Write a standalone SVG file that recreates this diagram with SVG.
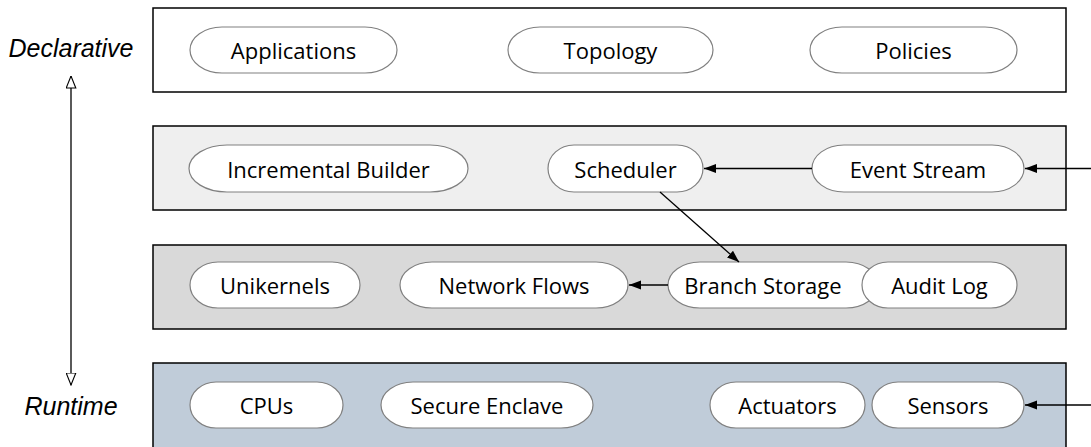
<svg xmlns="http://www.w3.org/2000/svg" width="1091" height="447" viewBox="0 0 1091 447">
  <style>
    .layer { stroke: #000; stroke-width: 1.5; }
    .pill { fill: #fff; stroke: #808080; stroke-width: 1.2; }
    .lbl { font-family: "Open Sans", Lato, sans-serif; font-size: 22px; fill: #000; text-anchor: middle; dominant-baseline: central; }
    .axis { font-family: "Liberation Sans", Arial, sans-serif; font-style: italic; font-size: 25px; fill: #000; text-anchor: middle; dominant-baseline: central; }
    .edge { stroke: #000; stroke-width: 1.3; fill: none; marker-end: url(#solid); }
  </style>
  <defs>
    <marker id="solid" viewBox="0 0 12 10" refX="12" refY="5" markerWidth="12" markerHeight="10" markerUnits="userSpaceOnUse" orient="auto">
      <path d="M0,0.5 L12,5 L0,9.5 Z" fill="#000"/>
    </marker>
    <marker id="hollow" viewBox="0 0 13 11" refX="12.5" refY="5.5" markerWidth="13" markerHeight="11" markerUnits="userSpaceOnUse" orient="auto">
      <path d="M0.5,0.7 L12.5,5.5 L0.5,10.3 Z" fill="#fff" stroke="#000" stroke-width="1.1"/>
    </marker>
  </defs>

  <!-- abstraction axis -->
  <g id="axis">
    <text class="axis" x="71" y="48">Declarative</text>
    <text class="axis" x="71" y="406">Runtime</text>
    <line x1="71" y1="230" x2="71" y2="76" stroke="#000" stroke-width="1.3" marker-end="url(#hollow)"/>
    <line x1="71" y1="230" x2="71" y2="385" stroke="#000" stroke-width="1.3" marker-end="url(#hollow)"/>
  </g>

  <!-- layers -->
  <g id="layer-declarative"><rect class="layer" x="153" y="8" width="913" height="84" fill="#fff"/></g>
  <g id="layer-control"><rect class="layer" x="153" y="126" width="913" height="84" fill="#efefef"/></g>
  <g id="layer-data"><rect class="layer" x="153" y="245" width="913" height="84" fill="#d9d9d9"/></g>
  <g id="layer-runtime"><rect class="layer" x="153" y="363" width="913" height="90" fill="#c0ccd9"/></g>

  <!-- declarative layer nodes -->
  <g id="applications"><rect class="pill" x="190" y="27" width="207" height="46" rx="32" ry="23"/><text class="lbl" x="293.5" y="50">Applications</text></g>
  <g id="topology"><rect class="pill" x="508" y="27" width="205" height="46" rx="32" ry="23"/><text class="lbl" x="610.5" y="50">Topology</text></g>
  <g id="policies"><rect class="pill" x="810" y="27" width="207" height="46" rx="32" ry="23"/><text class="lbl" x="913.5" y="50">Policies</text></g>

  <!-- control layer nodes -->
  <g id="incremental-builder"><rect class="pill" x="189" y="145" width="279" height="47" rx="38" ry="23.5"/><text class="lbl" x="328.5" y="168.5">Incremental Builder</text></g>
  <g id="scheduler"><rect class="pill" x="548" y="145" width="155" height="47" rx="26" ry="23.5"/><text class="lbl" x="625.5" y="168.5">Scheduler</text></g>
  <g id="event-stream"><rect class="pill" x="812" y="145" width="212" height="47" rx="32" ry="23.5"/><text class="lbl" x="918" y="168.5">Event Stream</text></g>

  <!-- data layer nodes -->
  <g id="unikernels"><rect class="pill" x="190" y="262" width="170" height="46" rx="28" ry="23"/><text class="lbl" x="275" y="285">Unikernels</text></g>
  <g id="network-flows"><rect class="pill" x="400" y="262" width="228" height="46" rx="32" ry="23"/><text class="lbl" x="514" y="285">Network Flows</text></g>
  <g id="branch-storage"><rect class="pill" x="668" y="262" width="210" height="46" rx="32" ry="23"/><text class="lbl" x="763" y="285">Branch Storage</text></g>
  <g id="audit-log"><rect class="pill" x="862" y="262" width="155" height="46" rx="26" ry="23"/><text class="lbl" x="939.5" y="285">Audit Log</text></g>

  <!-- runtime layer nodes -->
  <g id="cpus"><rect class="pill" x="190" y="382" width="153" height="46" rx="26" ry="23"/><text class="lbl" x="266.5" y="405">CPUs</text></g>
  <g id="secure-enclave"><rect class="pill" x="381" y="382" width="212" height="46" rx="32" ry="23"/><text class="lbl" x="487" y="405">Secure Enclave</text></g>
  <g id="actuators"><rect class="pill" x="710" y="382" width="155" height="46" rx="26" ry="23"/><text class="lbl" x="787.5" y="405">Actuators</text></g>
  <g id="sensors"><rect class="pill" x="872" y="382" width="152" height="46" rx="26" ry="23"/><text class="lbl" x="948" y="405">Sensors</text></g>

  <!-- connectors -->
  <g id="connectors">
    <line class="edge" x1="1091" y1="168.5" x2="1025" y2="168.5"/>
    <line class="edge" x1="812" y1="168.5" x2="704" y2="168.5"/>
    <line class="edge" x1="660" y1="192" x2="739" y2="262"/>
    <line class="edge" x1="668" y1="285" x2="629" y2="285"/>
    <line class="edge" x1="1091" y1="405" x2="1025" y2="405"/>
  </g>
</svg>
